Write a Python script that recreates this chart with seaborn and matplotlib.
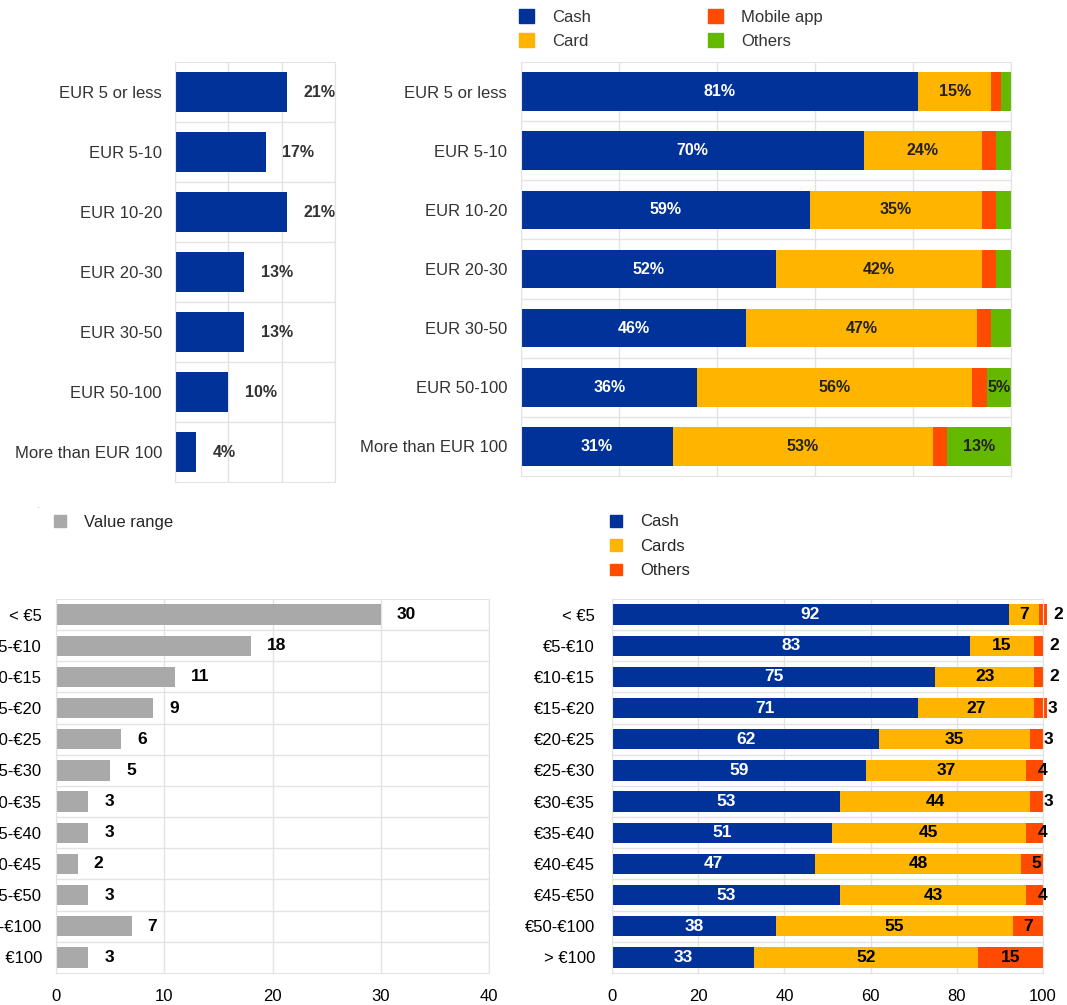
import numpy as np
import pandas as pd
import matplotlib
matplotlib.use("Agg")
import matplotlib.pyplot as plt
import seaborn as sns
from matplotlib.patches import Patch

# colours
BLUE = '#003299'
YELLOW = '#ffb400'
RED = '#ff4b00'
GREEN = '#65b800'
GREY = '#a9a9a9'
GRID = '#e3e3e3'

# top left: share of payments by value band (%)
top_bands = ['EUR 5 or less', 'EUR 5-10', 'EUR 10-20', 'EUR 20-30',
             'EUR 30-50', 'EUR 50-100', 'More than EUR 100']
top_share = [21, 17, 21, 13, 13, 10, 4]

# top right: payment instrument by value band (%)
top_cash = [81, 70, 59, 52, 46, 36, 31]
top_card = [15, 24, 35, 42, 47, 56, 53]
top_mobile = [2, 3, 3, 3, 3, 3, 3]
top_others = [2, 3, 3, 3, 4, 5, 13]
top_others_lab = ['', '', '', '', '', '5%', '13%']

# bottom left: value range distribution
bot_bands = ['< €5', '€5-€10', '€10-€15', '€15-€20', '€20-€25', '€25-€30',
             '€30-€35', '€35-€40', '€40-€45', '€45-€50', '€50-€100', '> €100']
bot_share = [30, 18, 11, 9, 6, 5, 3, 3, 2, 3, 7, 3]

# bottom right: cash / cards / others by value range
bot_cash = [92, 83, 75, 71, 62, 59, 53, 51, 47, 53, 38, 33]
bot_cards = [7, 15, 23, 27, 35, 37, 44, 45, 48, 43, 55, 52]
bot_others = [2, 2, 2, 3, 3, 4, 3, 4, 5, 4, 7, 15]

W, H = 1067, 1005
PT = 0.72  # points per pixel at dpi 100
sns.set_style("white")
plt.rcParams['font.family'] = ['Liberation Sans', 'DejaVu Sans']
NARROW = ['Liberation Sans Narrow', 'Liberation Sans', 'DejaVu Sans']

fig = plt.figure(figsize=(W / 100, H / 100), dpi=100)


def px_axes(x0, y0, x1, y1):
    return fig.add_axes([x0 / W, 1 - y1 / H, (x1 - x0) / W, (y1 - y0) / H])


def frame(ax, n, xmax, step, show_x, tcol, ypad_px):
    ax.set_xlim(0, xmax)
    ax.set_ylim(n - 0.5, -0.5)
    ax.set_xticks(np.arange(0, xmax + 1, step))
    ax.set_yticks(np.arange(n - 1) + 0.5, minor=True)
    ax.grid(axis='x', which='major', color=GRID, lw=1)
    ax.grid(axis='y', which='minor', color=GRID, lw=1)
    ax.grid(axis='y', which='major', visible=False)
    ax.set_axisbelow(True)
    for s in ax.spines.values():
        s.set_color(GRID)
    ax.tick_params(which='both', length=0)
    ax.tick_params(axis='y', labelsize=12, labelcolor=tcol, pad=ypad_px * PT)
    ax.tick_params(axis='x', labelsize=12, labelcolor='black', pad=11.5)
    if not show_x:
        ax.set_xticklabels([])
    ax.set_xlabel('')
    ax.set_ylabel('')


def stacked(ax, df, cols, colors):
    cum = df[cols].cumsum(axis=1)
    for col, color in list(zip(cols, colors))[::-1]:
        d = pd.DataFrame({'band': df['band'], 'v': cum[col]})
        sns.barplot(data=d, x='v', y='band', color=color, saturation=1,
                    width=0.65, linewidth=0, errorbar=None, ax=ax)
    for p in ax.patches:
        p.set_clip_on(False)
    return cum


# ---------- top left ----------
ax1 = px_axes(175, 62, 335, 482)
df1 = pd.DataFrame({'band': top_bands, 'share': top_share})
sns.barplot(data=df1, x='share', y='band', color=BLUE, saturation=1,
            width=0.67, linewidth=0, errorbar=None, ax=ax1)
frame(ax1, len(top_bands), 30, 10, False, '#333333', 13)
for i, v in enumerate(top_share):
    ax1.annotate(f'{v}%', (v, i), xytext=(12, 0), textcoords='offset points',
                 ha='left', va='center', fontsize=11.5, fontweight='bold',
                 color='#333333', family=NARROW)

# ---------- top right ----------
ax2 = px_axes(521, 62, 1011, 476)
df2 = pd.DataFrame({'band': top_bands, 'cash': top_cash, 'card': top_card,
                    'mobile': top_mobile, 'others': top_others})
cum2 = stacked(ax2, df2, ['cash', 'card', 'mobile', 'others'],
               [BLUE, YELLOW, RED, GREEN])
frame(ax2, len(top_bands), 100, 20, False, '#333333', 14)
for i in range(len(top_bands)):
    ax2.text(top_cash[i] / 2, i, f'{top_cash[i]}%', ha='center', va='center',
             color='white', fontsize=11.5, fontweight='bold', family=NARROW)
    ax2.text(top_cash[i] + top_card[i] / 2, i, f'{top_card[i]}%', ha='center',
             va='center', color='#222222', fontsize=11.5, fontweight='bold',
             family=NARROW)
    if top_others_lab[i]:
        ax2.text(cum2['mobile'][i] + top_others[i] / 2, i, top_others_lab[i],
                 ha='center', va='center', color='#222222', fontsize=11.5,
                 fontweight='bold', family=NARROW)
fig.legend(handles=[Patch(color=BLUE, label='Cash'), Patch(color=YELLOW, label='Card'),
                    Patch(color=RED, label='Mobile app'), Patch(color=GREEN, label='Others')],
           loc='upper left', bbox_to_anchor=(519 / W, 1 - 9 / H), ncol=2, frameon=False,
           borderaxespad=0, borderpad=0, handlelength=0.9, handleheight=0.9,
           handletextpad=1.1, columnspacing=7.0, labelspacing=0.5, fontsize=12,
           labelcolor='#333333')

# ---------- bottom left ----------
ax3 = px_axes(56, 599, 489, 973)
df3 = pd.DataFrame({'band': bot_bands, 'share': bot_share})
sns.barplot(data=df3, x='share', y='band', color=GREY, saturation=1,
            width=0.65, linewidth=0, errorbar=None, ax=ax3)
frame(ax3, len(bot_bands), 40, 10, True, 'black', 14)
for i, v in enumerate(bot_share):
    ax3.annotate(str(v), (v, i), xytext=(11.5, 0), textcoords='offset points',
                 ha='left', va='center', fontsize=12.5, fontweight='bold',
                 color='black', family=NARROW)
fig.legend(handles=[Patch(color=GREY, label='Value range')], loc='upper left',
           bbox_to_anchor=(54 / W, 1 - 514.5 / H), frameon=False, borderaxespad=0,
           borderpad=0, handlelength=0.7, handleheight=0.7, handletextpad=1.1,
           fontsize=12)
fig.text(38 / W, 1 - 508 / H, '-', fontsize=6, color='#bbbbbb', ha='center', va='center')

# ---------- bottom right ----------
ax4 = px_axes(612, 599, 1043, 973)
df4 = pd.DataFrame({'band': bot_bands, 'cash': bot_cash, 'cards': bot_cards,
                    'others': bot_others})
cum4 = stacked(ax4, df4, ['cash', 'cards', 'others'], [BLUE, YELLOW, RED])
frame(ax4, len(bot_bands), 100, 20, True, 'black', 17)
for i in range(len(bot_bands)):
    ax4.text(bot_cash[i] / 2, i, str(bot_cash[i]), ha='center', va='center',
             color='white', fontsize=12.5, fontweight='bold', family=NARROW)
    ax4.text(bot_cash[i] + bot_cards[i] / 2, i, str(bot_cards[i]), ha='center',
             va='center', color='black', fontsize=12.5, fontweight='bold', family=NARROW)
    o = bot_others[i]
    xo = cum4['cards'][i] + o / 2
    if o < 6:
        xo += (6 - o) * 0.9
    ax4.text(xo, i, str(o), ha='center', va='center', color='black',
             fontsize=12.5, fontweight='bold', family=NARROW, clip_on=False)
fig.legend(handles=[Patch(color=BLUE, label='Cash'), Patch(color=YELLOW, label='Cards'),
                    Patch(color=RED, label='Others')], loc='upper left',
           bbox_to_anchor=(610 / W, 1 - 514.5 / H), frameon=False, borderaxespad=0,
           borderpad=0, handlelength=0.7, handleheight=0.7, handletextpad=1.1,
           labelspacing=0.56, fontsize=12)

fig.savefig('out.png', dpi=100)
